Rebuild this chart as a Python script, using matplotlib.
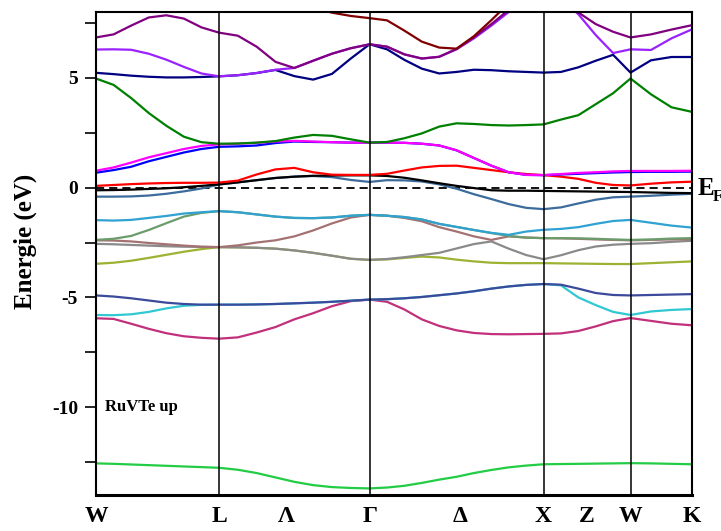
import numpy as np
import matplotlib
matplotlib.use("Agg")
import matplotlib.pyplot as plt
import matplotlib.transforms as mtransforms

nan = np.nan

# k-path W-L-Γ-X-W-K; segment lengths in units of 2π/a, sample divisions per segment
POINT_LABELS = ['W', 'L', 'Γ', 'X', 'W', 'K']
SEG_LEN = [np.sqrt(2) / 2, np.sqrt(3) / 2, 1.0, 0.5, np.sqrt(2) / 4]
SEG_DIV = [7, 8, 10, 5, 3]
MID_LABELS = ['Λ', 'Δ', 'Z']   # placed inside L-Γ, Γ-X, X-W
MID_FRAC = [0.45, 0.52, 0.5]

# band energies (eV) relative to E_F, per segment:  W-L | L-Γ | Γ-X | X-W | W-K
band01 = [-12.56, -12.58, -12.61, -12.64, -12.67, -12.70, -12.73, -12.76,
          -12.85, -13.00, -13.20, -13.40, -13.55, -13.64, -13.68, -13.70,
          -13.66, -13.58, -13.45, -13.30, -13.17, -13.00, -12.86, -12.74, -12.66, -12.60,
          -12.59, -12.58, -12.57, -12.56, -12.55,
          -12.56, -12.58, -12.60]
band02 = [-5.95, -5.98, -6.20, -6.43, -6.63, -6.77, -6.84, -6.88,
          -6.82, -6.60, -6.35, -6.00, -5.72, -5.40, -5.17, -5.10,
          -5.20, -5.55, -6.00, -6.30, -6.50, -6.62, -6.67, -6.68, -6.67, -6.66,
          -6.64, -6.53, -6.32, -6.08, -5.94,
          -6.07, -6.20, -6.27]
band03 = [-5.80, -5.81, -5.77, -5.66, -5.50, -5.38, -5.34, -5.33,
          -5.33, -5.32, -5.30, -5.27, -5.24, -5.20, -5.15, -5.10,
          -5.08, -5.04, -4.98, -4.90, -4.82, -4.72, -4.60, -4.50, -4.43, -4.39,
          -4.45, -5.00, -5.35, -5.66, -5.80,
          -5.64, -5.57, -5.53]
band04 = [-4.91, -4.96, -5.04, -5.14, -5.24, -5.30, -5.33, -5.33,
          -5.33, -5.32, -5.30, -5.27, -5.24, -5.20, -5.15, -5.10,
          -5.08, -5.04, -4.98, -4.90, -4.82, -4.72, -4.60, -4.50, -4.43, -4.39,
          -4.42, -4.60, -4.80, -4.89, -4.91,
          -4.89, -4.87, -4.85]
band05 = [-3.47, -3.42, -3.33, -3.20, -3.06, -2.92, -2.80, -2.71,
          -2.72, -2.74, -2.78, -2.86, -2.97, -3.10, -3.24, -3.29,
          -3.27, -3.20, -3.14, -3.18, -3.28, -3.36, -3.42, -3.44, -3.44, -3.44,
          -3.45, -3.46, -3.47, -3.48, -3.48,
          -3.44, -3.40, -3.36]
band06 = [-2.56, -2.58, -2.61, -2.64, -2.67, -2.69, -2.70, -2.71,
          -2.72, -2.74, -2.78, -2.86, -2.97, -3.10, -3.24, -3.29,
          -3.25, -3.17, -3.07, -2.97, -2.77, -2.57, -2.45, -2.78, -3.07, -3.26,
          -3.08, -2.85, -2.68, -2.60, -2.56,
          -2.53, -2.47, -2.42]
band07 = [-2.40, -2.41, -2.45, -2.52, -2.58, -2.64, -2.69, -2.71,
          -2.63, -2.50, -2.40, -2.22, -1.95, -1.63, -1.36, -1.24,
          -1.28, -1.38, -1.53, -1.80, -2.00, -2.22, -2.38, -2.22, -2.27, -2.30,
          -2.31, -2.33, -2.36, -2.38, -2.40,
          -2.38, -2.36, -2.35]
band08 = [-2.38, -2.33, -2.20, -1.93, -1.62, -1.32, -1.15, -1.07,
          -1.12, -1.22, -1.32, -1.38, -1.39, -1.36, -1.28, -1.24,
          -1.28, -1.34, -1.45, -1.65, -1.79, -1.93, -2.07, -2.20, -2.28, -2.30,
          -2.30, -2.31, -2.33, -2.36, -2.38,
          -2.36, -2.32, -2.30]
band09 = [-1.48, -1.50, -1.47, -1.38, -1.29, -1.18, -1.12, -1.07,
          -1.12, -1.22, -1.32, -1.38, -1.39, -1.36, -1.28, -1.24,
          -1.28, -1.34, -1.45, -1.65, -1.79, -1.93, -2.06, -2.15, -2.00, -1.92,
          -1.88, -1.80, -1.65, -1.52, -1.47,
          -1.60, -1.73, -1.82]
band10 = [-0.41, -0.41, -0.40, -0.36, -0.28, -0.17, -0.04, 0.14,
          0.24, 0.34, 0.44, 0.50, 0.53, 0.48, 0.35, 0.26,
          0.34, 0.33, 0.28, 0.15, -0.05, -0.30, -0.52, -0.75, -0.92, -0.98,
          -0.90, -0.72, -0.55, -0.44, -0.41,
          -0.37, -0.32, -0.28]
band11 = [-0.12, -0.11, -0.09, -0.06, -0.03, 0.02, 0.08, 0.15,
          0.24, 0.34, 0.44, 0.50, 0.54, 0.55, 0.56, 0.56,
          0.53, 0.45, 0.33, 0.20, 0.08, -0.02, -0.12, -0.14, -0.14, -0.15,
          -0.16, -0.17, -0.18, -0.19, -0.20,
          -0.22, -0.24, -0.25]
band12 = [0.08, 0.12, 0.16, 0.19, 0.21, 0.22, 0.22, 0.23,
          0.32, 0.60, 0.83, 0.90, 0.70, 0.59, 0.58, 0.58,
          0.63, 0.78, 0.92, 0.99, 1.00, 0.90, 0.80, 0.70, 0.62, 0.57,
          0.50, 0.40, 0.22, 0.12, 0.10,
          0.18, 0.24, 0.27]
band13 = [0.68, 0.80, 0.95, 1.20, 1.40, 1.60, 1.76, 1.86,
          1.88, 1.92, 2.03, 2.10, 2.08, 2.07, 2.05, 2.05,
          2.05, 2.04, 2.00, 1.92, 1.70, 1.35, 1.00, 0.70, 0.58, 0.57,
          0.60, 0.63, 0.66, 0.69, 0.71,
          0.72, 0.72, 0.73]
band14 = [0.77, 0.92, 1.14, 1.38, 1.57, 1.76, 1.90, 1.97,
          2.00, 2.04, 2.10, 2.13, 2.10, 2.07, 2.05, 2.05,
          2.05, 2.04, 2.00, 1.92, 1.70, 1.35, 1.00, 0.70, 0.58, 0.57,
          0.62, 0.67, 0.70, 0.74, 0.76,
          0.76, 0.76, 0.77]
band15 = [4.97, 4.68, 4.08, 3.40, 2.82, 2.32, 2.07, 2.00,
          2.01, 2.05, 2.12, 2.28, 2.40, 2.36, 2.20, 2.05,
          2.08, 2.25, 2.47, 2.78, 2.93, 2.90, 2.85, 2.83, 2.85, 2.88,
          3.10, 3.30, 3.80, 4.30, 4.97,
          4.25, 3.66, 3.45]
band16 = [5.23, 5.17, 5.10, 5.05, 5.02, 5.02, 5.04, 5.07,
          5.12, 5.22, 5.36, 5.08, 4.92, 5.18, 5.88, 6.53,
          6.30, 5.82, 5.42, 5.20, 5.27, 5.37, 5.35, 5.30, 5.27, 5.24,
          5.27, 5.48, 5.78, 6.05, 5.24,
          5.80, 5.95, 5.95]
band17 = [6.29, 6.30, 6.28, 6.10, 5.83, 5.50, 5.20, 5.07,
          5.12, 5.22, 5.37, 5.45, 5.78, 6.10, 6.35, 6.53,
          6.42, 6.07, 5.88, 5.96, 6.30, 6.80, 7.38, 8.00, 8.70, nan,
          8.60, 7.90, 6.95, 6.13, 6.30,
          6.27, 6.80, 7.21]
band18 = [6.84, 6.98, 7.38, 7.75, 7.85, 7.70, 7.30, 7.06,
          6.92, 6.42, 5.73, 5.45, 5.78, 6.10, 6.35, 6.53,
          6.42, 6.07, 5.88, 5.96, 6.32, 6.85, 7.45, 8.10, 8.80, nan,
          8.70, 7.98, 7.45, 7.10, 6.84,
          6.98, 7.20, 7.40]
band19 = [nan, nan, nan, nan, nan, nan, nan, nan,
          nan, nan, nan, nan, 8.20, 7.97, 7.82, 7.72,
          7.62, 7.15, 6.65, 6.38, 6.33, 6.90, 7.63, 8.40, nan, nan,
          nan, nan, nan, nan, nan,
          nan, nan, nan]

BANDS = [band01, band02, band03, band04, band05, band06, band07, band08, band09, band10,
         band11, band12, band13, band14, band15, band16, band17, band18, band19]
BAND_COLORS = ['#22cc44', '#c2307c', '#30c8d2', '#3c4a9c', '#9cb232', '#8a8a8a',
               '#a47272', '#6c9c6c', '#30a2d2', '#3c6c9c', '#000000', '#ff0000',
               '#0000ff', '#ff00ff', '#008000', '#000080', '#9a22ff', '#800080',
               '#800000']

plt.rcParams['font.family'] = ['Liberation Serif', 'DejaVu Serif']
plt.rcParams['font.weight'] = 'bold'
plt.rcParams['axes.unicode_minus'] = False

# build the k axis from the segment lengths
k = [0.0]
for length, n in zip(SEG_LEN, SEG_DIV):
    start = k[-1]
    k.extend(start + length * np.arange(1, n + 1) / n)
k = np.array(k)
nodes = np.concatenate([[0.0], np.cumsum(SEG_LEN)])

fig = plt.figure(figsize=(7.21, 5.31), dpi=100)
ax = fig.add_axes([96 / 721, 1 - 495 / 531, 596 / 721, 483 / 531])

# Fermi level
ax.axhline(0.0, color='black', lw=1.3, dashes=(4.5, 2.8), zorder=1)

for energies, color in zip(BANDS, BAND_COLORS):
    ax.plot(k, energies, color=color, lw=1.6, solid_capstyle='round', zorder=2)

# high-symmetry verticals
for xn in nodes[1:-1]:
    ax.axvline(xn, color='black', lw=1.1, zorder=3)

ax.set_xlim(nodes[0], nodes[-1])
ax.set_ylim(-14, 8)

mids = [nodes[i + 1] + f * (nodes[i + 2] - nodes[i + 1]) for i, f in enumerate(MID_FRAC)]
ax.set_xticks(list(nodes) + mids)
ax.set_xticklabels(POINT_LABELS + MID_LABELS, fontsize=17, fontweight='bold')
ax.tick_params(axis='x', length=0, pad=8)

ax.set_yticks([-10, -5, 0, 5])
ax.set_yticks([-12.5, -7.5, -2.5, 2.5, 7.5], minor=True)
ax.tick_params(axis='y', which='both', direction='out', length=8, width=1.2, pad=5,
               labelsize=14)
for lab in ax.get_yticklabels():
    lab.set_fontweight('bold')

ax.set_ylabel('Energie (eV)', fontsize=18, fontweight='bold')
ax.yaxis.set_label_coords(-0.099, 0.526)

for side in ['left', 'right', 'top']:
    ax.spines[side].set_linewidth(1.5)
ax.spines['bottom'].set_linewidth(2.2)

ax.text(k[0] + 0.05, -10.0, 'RuVTe up', fontsize=12, fontweight='bold',
        ha='left', va='center')

# E_F marker to the right of the frame
trans = mtransforms.blended_transform_factory(ax.transAxes, ax.transData)
ax.text(1.009, -0.33, 'E', transform=trans, fontsize=18, fontweight='bold',
        ha='left', va='baseline', clip_on=False)
ax.text(1.035, -0.62, 'F', transform=trans, fontsize=12, fontweight='bold',
        ha='left', va='baseline', clip_on=False)

fig.savefig('out.png', dpi=100)
